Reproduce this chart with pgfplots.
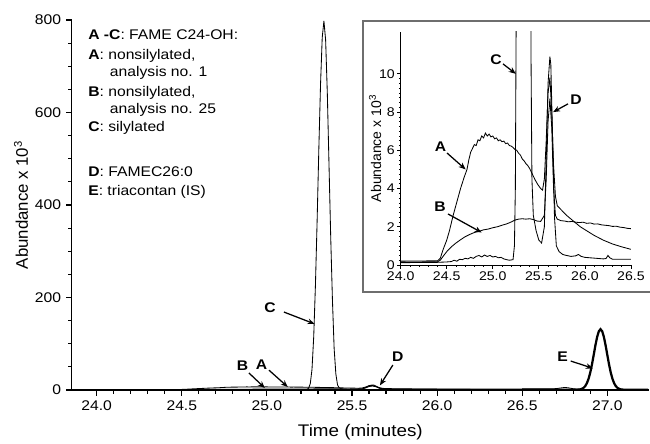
\documentclass[border=0pt]{standalone}
\usepackage{pgfplots}
\pgfplotsset{compat=1.18}
\usepackage{pgfplotstable}
\usepackage{fontspec}
\setmainfont{Liberation Sans}[FakeStretch=1.12]
\newfontfamily\rotfont{Liberation Sans}
\usetikzlibrary{arrows.meta}

\definecolor{framegray}{RGB}{110,110,110}

% trace A: nonsilylated, analysis no. 1
\pgfplotstableread{
t y
23.86 0.20
24.20 0.21
24.40 0.22
24.43 0.35
24.46 0.80
24.50 1.30
24.53 1.80
24.57 2.60
24.61 3.30
24.65 4.00
24.69 4.60
24.72 5.00
24.74 5.50
24.76 5.90
24.78 6.10
24.80 6.30
24.82 6.25
24.84 6.55
24.86 6.50
24.88 6.75
24.90 6.65
24.92 6.90
24.94 6.75
24.96 6.85
24.98 6.70
25.00 6.75
25.02 6.60
25.04 6.65
25.06 6.50
25.08 6.55
25.10 6.45
25.12 6.48
25.14 6.35
25.16 6.38
25.18 6.25
25.20 6.22
25.22 6.15
25.24 6.05
25.26 6.00
25.28 5.85
25.30 5.75
25.32 5.55
25.34 5.45
25.36 5.30
25.38 5.20
25.40 5.05
25.43 4.75
25.46 4.45
25.49 4.20
25.52 4.00
25.54 3.92
25.56 4.50
25.58 6.50
25.60 9.00
25.62 9.80
25.64 8.00
25.66 5.20
25.68 3.60
25.70 3.10
25.73 2.95
25.76 2.80
25.80 2.60
25.85 2.40
25.90 2.20
25.95 2.00
26.00 1.85
26.10 1.55
26.20 1.30
26.30 1.10
26.40 0.95
26.50 0.82
}\tabA

% trace B: nonsilylated, analysis no. 25
\pgfplotstableread{
t y
23.86 0.15
24.20 0.16
24.40 0.17
24.43 0.25
24.46 0.45
24.50 0.70
24.55 0.95
24.60 1.15
24.65 1.32
24.70 1.48
24.75 1.60
24.80 1.70
24.85 1.76
24.90 1.84
24.95 1.88
25.00 1.95
25.05 2.00
25.10 2.08
25.15 2.15
25.20 2.25
25.24 2.35
25.28 2.40
25.32 2.42
25.36 2.40
25.40 2.42
25.44 2.38
25.48 2.30
25.52 2.28
25.56 2.60
25.58 4.50
25.60 7.50
25.62 8.70
25.64 7.20
25.66 4.00
25.68 2.60
25.70 2.40
25.74 2.32
25.78 2.30
25.82 2.26
25.86 2.28
25.90 2.24
25.94 2.22
25.98 2.24
26.02 2.18
26.06 2.20
26.10 2.14
26.14 2.15
26.18 2.10
26.22 2.08
26.26 2.06
26.30 2.02
26.34 2.03
26.38 1.98
26.42 1.96
26.46 1.92
26.50 1.90
}\tabB

% trace C: silylated
\pgfplotstableread{
t y
23.86 0.12
24.20 0.13
24.40 0.14
24.45 0.15
24.50 0.16
24.55 0.18
24.58 0.25
24.61 0.20
24.64 0.30
24.67 0.28
24.70 0.35
24.73 0.32
24.76 0.40
24.79 0.35
24.82 0.45
24.85 0.50
24.88 0.42
24.91 0.52
24.94 0.45
24.97 0.50
25.00 0.42
25.03 0.45
25.06 0.38
25.09 0.40
25.12 0.32
25.15 0.28
25.18 0.25
25.22 0.28
25.235 1.0
25.245 4.0
25.255 14
25.265 45
25.275 115
25.285 225
25.295 365
25.305 520
25.315 660
25.325 762
25.335 798
25.345 757
25.355 641
25.365 485
25.375 329
25.385 195
25.395 90
25.405 35
25.415 11
25.425 4.5
25.44 2.6
25.47 1.8
25.50 1.3
25.53 1.15
25.56 2.0
25.58 5.5
25.60 9.5
25.62 10.9
25.63 10.5
25.65 6.5
25.67 2.5
25.69 1.0
25.72 0.70
25.76 0.55
25.80 0.50
25.85 0.45
25.90 0.48
25.93 0.55
25.96 0.45
26.00 0.40
26.05 0.38
26.10 0.36
26.15 0.34
26.20 0.32
26.23 0.34
26.25 0.50
26.27 0.38
26.30 0.30
26.40 0.30
26.50 0.30
}\tabC

% E: triacontan (IS), all runs overlaid
\pgfplotstableread{
t y
26.50 0.5
26.80 0.5
26.82 0.6
26.84 1.4
26.85 2.5
26.86 4.6
26.87 8.4
26.88 14.8
26.89 24.5
26.90 38
26.91 55.7
26.92 75.8
26.93 96.5
26.94 114.5
26.95 127
26.96 131.5
26.97 127
26.98 114.5
26.99 96.5
27.00 75.8
27.01 55.7
27.02 38
27.03 24.5
27.04 14.8
27.05 8.4
27.06 4.6
27.07 2.5
27.08 1.4
27.10 0.6
27.15 0.5
27.24 0.5
}\tabE

% small trace after 26.5
\pgfplotstableread{
t y
26.50 2.6
26.55 2.4
26.60 2.4
26.65 2.6
26.70 3.0
26.73 4.6
26.75 5.6
26.77 4.8
26.80 2.8
26.85 1.2
26.90 0.6
}\tabR

\begin{document}
\begin{tikzpicture}[
  lab/.style={font=\bfseries, inner sep=0pt},
  arr/.style={-{Stealth[length=5pt,width=4pt]}, line width=0.9pt}
]
\begin{axis}[
  at={(0pt,0pt)}, anchor=south west,
  scale only axis, width=412.4pt, height=264.3pt,
  xmin=23.853, xmax=27.245, ymin=0, ymax=800,
  axis lines*=left,
  axis line style={line width=1.1pt},
  tick align=outside,
  xtick={24,24.5,25,25.5,26,26.5,27},
  minor x tick num=4,
  ytick={0,200,400,600,800},
  minor y tick num=3,
  major tick length=4pt, minor tick length=2.5pt,
  every tick/.style={black, line width=0.8pt},
  /pgf/number format/assume math mode=true,
  xticklabel style={/pgf/number format/.cd, fixed, fixed zerofill, precision=1},
  xlabel={\large Time (minutes)},
  xlabel shift=3pt,
  ylabel={\large\rotfont Abundance x 10\textsuperscript{3}},
  ylabel shift=-2pt,
  clip=false,
]
\addplot[black, line width=0.6pt] table[x=t, y=y] {\tabA};
\addplot[black, line width=0.6pt] table[x=t, y=y] {\tabB};
\addplot[black, line width=0.6pt] table[x=t, y=y] {\tabC};
\addplot[black, line width=0.6pt] table[x=t, y=y] {\tabR};
\addplot[black, line width=1.6pt] table[x=t, y=y] {\tabE};

\node[anchor=north west, inner sep=0pt, align=left] at (axis cs:23.949,780)
{\textbf{A -C}: FAME C24-OH:\\[2.3pt]
 \textbf{A}: nonsilylated,\\
 \hspace*{15.5pt}analysis no. 1\\[2.8pt]
 \textbf{B}: nonsilylated,\\[-0.4pt]
 \hspace*{15.5pt}analysis no. 25\\[1.4pt]
 \textbf{C}: silylated\\[20pt]
 \textbf{D}: FAMEC26:0\\[1.1pt]
 \textbf{E}: triacontan (IS)};

\node[lab] at (axis cs:25.018,177) {C};
\draw[arr] (axis cs:25.100,168.6) -- (axis cs:25.280,143);
\node[lab] at (axis cs:24.857,52.5) {B};
\draw[arr] (axis cs:24.894,37) -- (axis cs:24.988,4.3);
\node[lab] at (axis cs:24.969,54) {A};
\draw[arr] (axis cs:25.012,43) -- (axis cs:25.123,6.5);
\node[lab] at (axis cs:25.769,71.4) {D};
\draw[arr] (axis cs:25.740,54) -- (axis cs:25.664,10);
\node[lab] at (axis cs:26.738,72) {E};
\draw[arr] (axis cs:26.785,62.7) -- (axis cs:26.915,47);
\end{axis}

\draw[line width=1.3pt, framegray, fill=white] (207.9pt,70.2pt) rectangle (418pt,263.8pt);

\begin{axis}[
  at={(235pt,89.3pt)}, anchor=south west,
  scale only axis, width=164.5pt, height=166.6pt,
  xmin=24, xmax=26.5, ymin=0, ymax=12.2,
  axis lines*=left,
  axis line style={line width=0.6pt},
  tick align=outside,
  xtick={24,24.5,25,25.5,26,26.5},
  minor x tick num=4,
  ytick={0,2,4,6,8,10},
  minor y tick num=7,
  major tick length=2.5pt, minor tick length=1.2pt,
  every tick/.style={black, line width=0.5pt},
  /pgf/number format/assume math mode=true,
  ticklabel style={font=\small, inner sep=1pt},
  xticklabel style={yshift=-0.8pt, /pgf/number format/.cd, fixed, fixed zerofill, precision=1},
  yticklabel style={xshift=-0.5pt},
  ylabel={\rotfont Abundance x 10\textsuperscript{3}},
  ylabel shift=-6pt,
]
\addplot[black, line width=0.6pt] table[x=t, y=y] {\tabA};
\addplot[black, line width=0.6pt] table[x=t, y=y] {\tabB};
\addplot[black, line width=0.6pt] table[x=t, y=y] {\tabC};

\node[lab] at (axis cs:25.035,10.73) {C};
\draw[arr] (axis cs:25.111,10.52) -- (axis cs:25.250,10);
\node[lab] at (axis cs:25.904,8.64) {D};
\draw[arr] (axis cs:25.817,8.43) -- (axis cs:25.655,8.0);
\node[lab] at (axis cs:24.434,6.19) {A};
\draw[arr] (axis cs:24.503,5.86) -- (axis cs:24.705,5.0);
\node[lab] at (axis cs:24.427,3.05) {B};
\draw[arr] (axis cs:24.514,2.67) -- (axis cs:24.879,1.7);
\end{axis}

\pgfresetboundingbox
\useasboundingbox (-51.2pt,-37.9pt) rectangle (413.1pt,278.6pt);
\end{tikzpicture}
\end{document}
